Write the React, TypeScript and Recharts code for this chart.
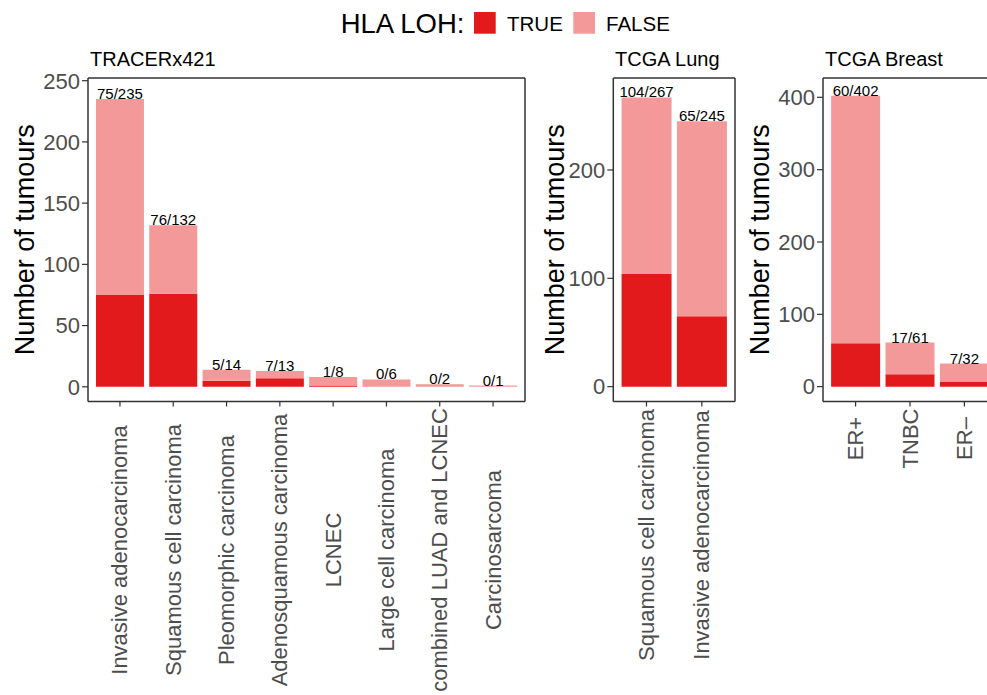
import React from 'react';
import { BarChart, Bar, XAxis, YAxis, LabelList } from 'recharts';

const RED = '#E31A1C';
const PINK = '#F4999A';
const FONT = '"Liberation Sans", Arial, Helvetica, sans-serif';
const AXIS = '#333333';
const TICK_TEXT = '#4D4D4D';

// TRACERx421
const tracerxTypes = [
  'Invasive adenocarcinoma',
  'Squamous cell carcinoma',
  'Pleomorphic carcinoma',
  'Adenosquamous carcinoma',
  'LCNEC',
  'Large cell carcinoma',
  'combined LUAD and LCNEC',
  'Carcinosarcoma',
];
const tracerxTrue = [75, 76, 5, 7, 1, 0, 0, 0];
const tracerxFalse = [160, 56, 9, 6, 7, 6, 2, 1];
const tracerxTicks = [0, 50, 100, 150, 200, 250];

// TCGA Lung
const lungTypes = ['Squamous cell carcinoma', 'Invasive adenocarcinoma'];
const lungTrue = [104, 65];
const lungFalse = [163, 180];
const lungTicks = [0, 100, 200];

// TCGA Breast
const breastTypes = ['ER+', 'TNBC', 'ER\u2013'];
const breastTrue = [60, 17, 7];
const breastFalse = [342, 44, 25];
const breastTicks = [0, 100, 200, 300, 400];

const buildRows = (types: string[], t: number[], f: number[]) =>
  types.map((name, i) => ({
    name,
    lohTrue: t[i],
    lohFalse: f[i],
    label: `${t[i]}/${t[i] + f[i]}`,
  }));

const tracerxRows = buildRows(tracerxTypes, tracerxTrue, tracerxFalse);
const lungRows = buildRows(lungTypes, lungTrue, lungFalse);
const breastRows = buildRows(breastTypes, breastTrue, breastFalse);

const CHART_H = 695;
const PLOT_TOP = 78;
const PLOT_BOTTOM = 401.5;
const RIGHT_GAP = 12;

const makeXTick = (offset: number) => (props: any) => {
  const { x, y, payload } = props;
  return (
    <text
      transform={`translate(${x},${y + offset}) rotate(-90)`}
      textAnchor="middle"
      dominantBaseline="central"
      fontSize={22}
      fontFamily={FONT}
      fill={TICK_TEXT}
    >
      {payload.value}
    </text>
  );
};

const AxisTitle = (props: any) => {
  const { viewBox, cx } = props;
  const vb = viewBox || { x: 0, y: PLOT_TOP, height: PLOT_BOTTOM - PLOT_TOP };
  return (
    <text
      transform={`translate(${vb.x + cx},${vb.y + vb.height / 2}) rotate(-90)`}
      textAnchor="middle"
      dominantBaseline="central"
      fontSize={27}
      fontFamily={FONT}
      fill="#000"
    >
      Number of tumours
    </text>
  );
};

const barLabel = (props: any) => {
  const { x, y, width, value } = props;
  return (
    <text x={x + width / 2} y={y} textAnchor="middle" fontSize={15} fontFamily={FONT} fill="#000">
      {value}
    </text>
  );
};

interface PanelProps {
  rows: any[];
  left: number;
  axisWidth: number;
  plotWidth: number;
  domain: [number, number];
  ticks: number[];
  pad: number;
  tickOffset: number;
  titleX: number;
}

const Panel = ({ rows, left, axisWidth, plotWidth, domain, ticks, pad, tickOffset, titleX }: PanelProps) => {
  const width = axisWidth + plotWidth + RIGHT_GAP;
  const xHeight = CHART_H - PLOT_BOTTOM;
  const border = { stroke: AXIS, strokeWidth: 1.5 };
  return (
    <div style={{ position: 'absolute', left, top: 0 }}>
      <BarChart
        width={width}
        height={CHART_H}
        data={rows}
        margin={{ top: PLOT_TOP - 1, right: RIGHT_GAP - 1, bottom: 0, left: 0 }}
        barCategoryGap="5%"
      >
        <XAxis
          dataKey="name"
          height={xHeight}
          interval={0}
          padding={{ left: pad, right: pad }}
          axisLine={border}
          tickLine={{ stroke: AXIS, strokeWidth: 1.2 }}
          tickSize={5}
          tickMargin={0}
          tick={makeXTick(tickOffset)}
        />
        <XAxis
          xAxisId="top"
          orientation="top"
          dataKey="name"
          height={1}
          padding={{ left: pad, right: pad }}
          axisLine={border}
          tick={false}
          tickLine={false}
        />
        <YAxis
          type="number"
          width={axisWidth}
          domain={domain}
          ticks={ticks}
          allowDataOverflow
          axisLine={border}
          tickLine={{ stroke: AXIS, strokeWidth: 1.2 }}
          tickSize={6}
          tickMargin={2}
          tick={{ fontSize: 22, fontFamily: FONT, fill: TICK_TEXT }}
          label={<AxisTitle cx={titleX} />}
        />
        <YAxis
          yAxisId="right"
          orientation="right"
          type="number"
          width={1}
          domain={domain}
          allowDataOverflow
          axisLine={border}
          tick={false}
          tickLine={false}
        />
        <Bar dataKey="lohTrue" stackId="loh" fill={RED} isAnimationActive={false} />
        <Bar dataKey="lohFalse" stackId="loh" fill={PINK} isAnimationActive={false}>
          <LabelList dataKey="label" content={barLabel} />
        </Bar>
      </BarChart>
    </div>
  );
};

export default function App() {
  return (
    <div
      style={{
        position: 'fixed',
        left: 0,
        top: 0,
        width: 987,
        height: 695,
        overflow: 'hidden',
        background: '#fff',
        fontFamily: FONT,
      }}
    >
      <Panel
        rows={tracerxRows}
        left={0}
        axisWidth={88}
        plotWidth={437}
        domain={[-12, 252.2]}
        ticks={tracerxTicks}
        pad={5.3}
        tickOffset={143.5}
        titleX={25}
      />
      <Panel
        rows={lungRows}
        left={540}
        axisWidth={73.3}
        plotWidth={121.7}
        domain={[-13.7, 284.9]}
        ticks={lungTicks}
        pad={5.5}
        tickOffset={128.5}
        titleX={15}
      />
      <Panel
        rows={breastRows}
        left={745}
        axisWidth={78}
        plotWidth={174}
        domain={[-20.5, 426.7]}
        ticks={breastTicks}
        pad={5.4}
        tickOffset={32}
        titleX={15}
      />
      <svg
        width={987}
        height={695}
        style={{ position: 'absolute', left: 0, top: 0, pointerEvents: 'none' }}
        fontFamily={FONT}
      >
        <text x={340.7} y={33.3} fontSize={27.5} fill="#000">HLA LOH:</text>
        <rect x={474} y={12} width={21.7} height={21.7} fill={RED} />
        <text x={507} y={30.7} fontSize={20.5} fill="#000">TRUE</text>
        <rect x={573.3} y={12} width={21.7} height={21.7} fill={PINK} />
        <text x={606} y={30.7} fontSize={20.5} fill="#000">FALSE</text>
        <text x={90} y={66} fontSize={20} fill="#000">TRACERx421</text>
        <text x={615} y={66} fontSize={20} fill="#000">TCGA Lung</text>
        <text x={825} y={66} fontSize={20} fill="#000">TCGA Breast</text>
      </svg>
    </div>
  );
}
